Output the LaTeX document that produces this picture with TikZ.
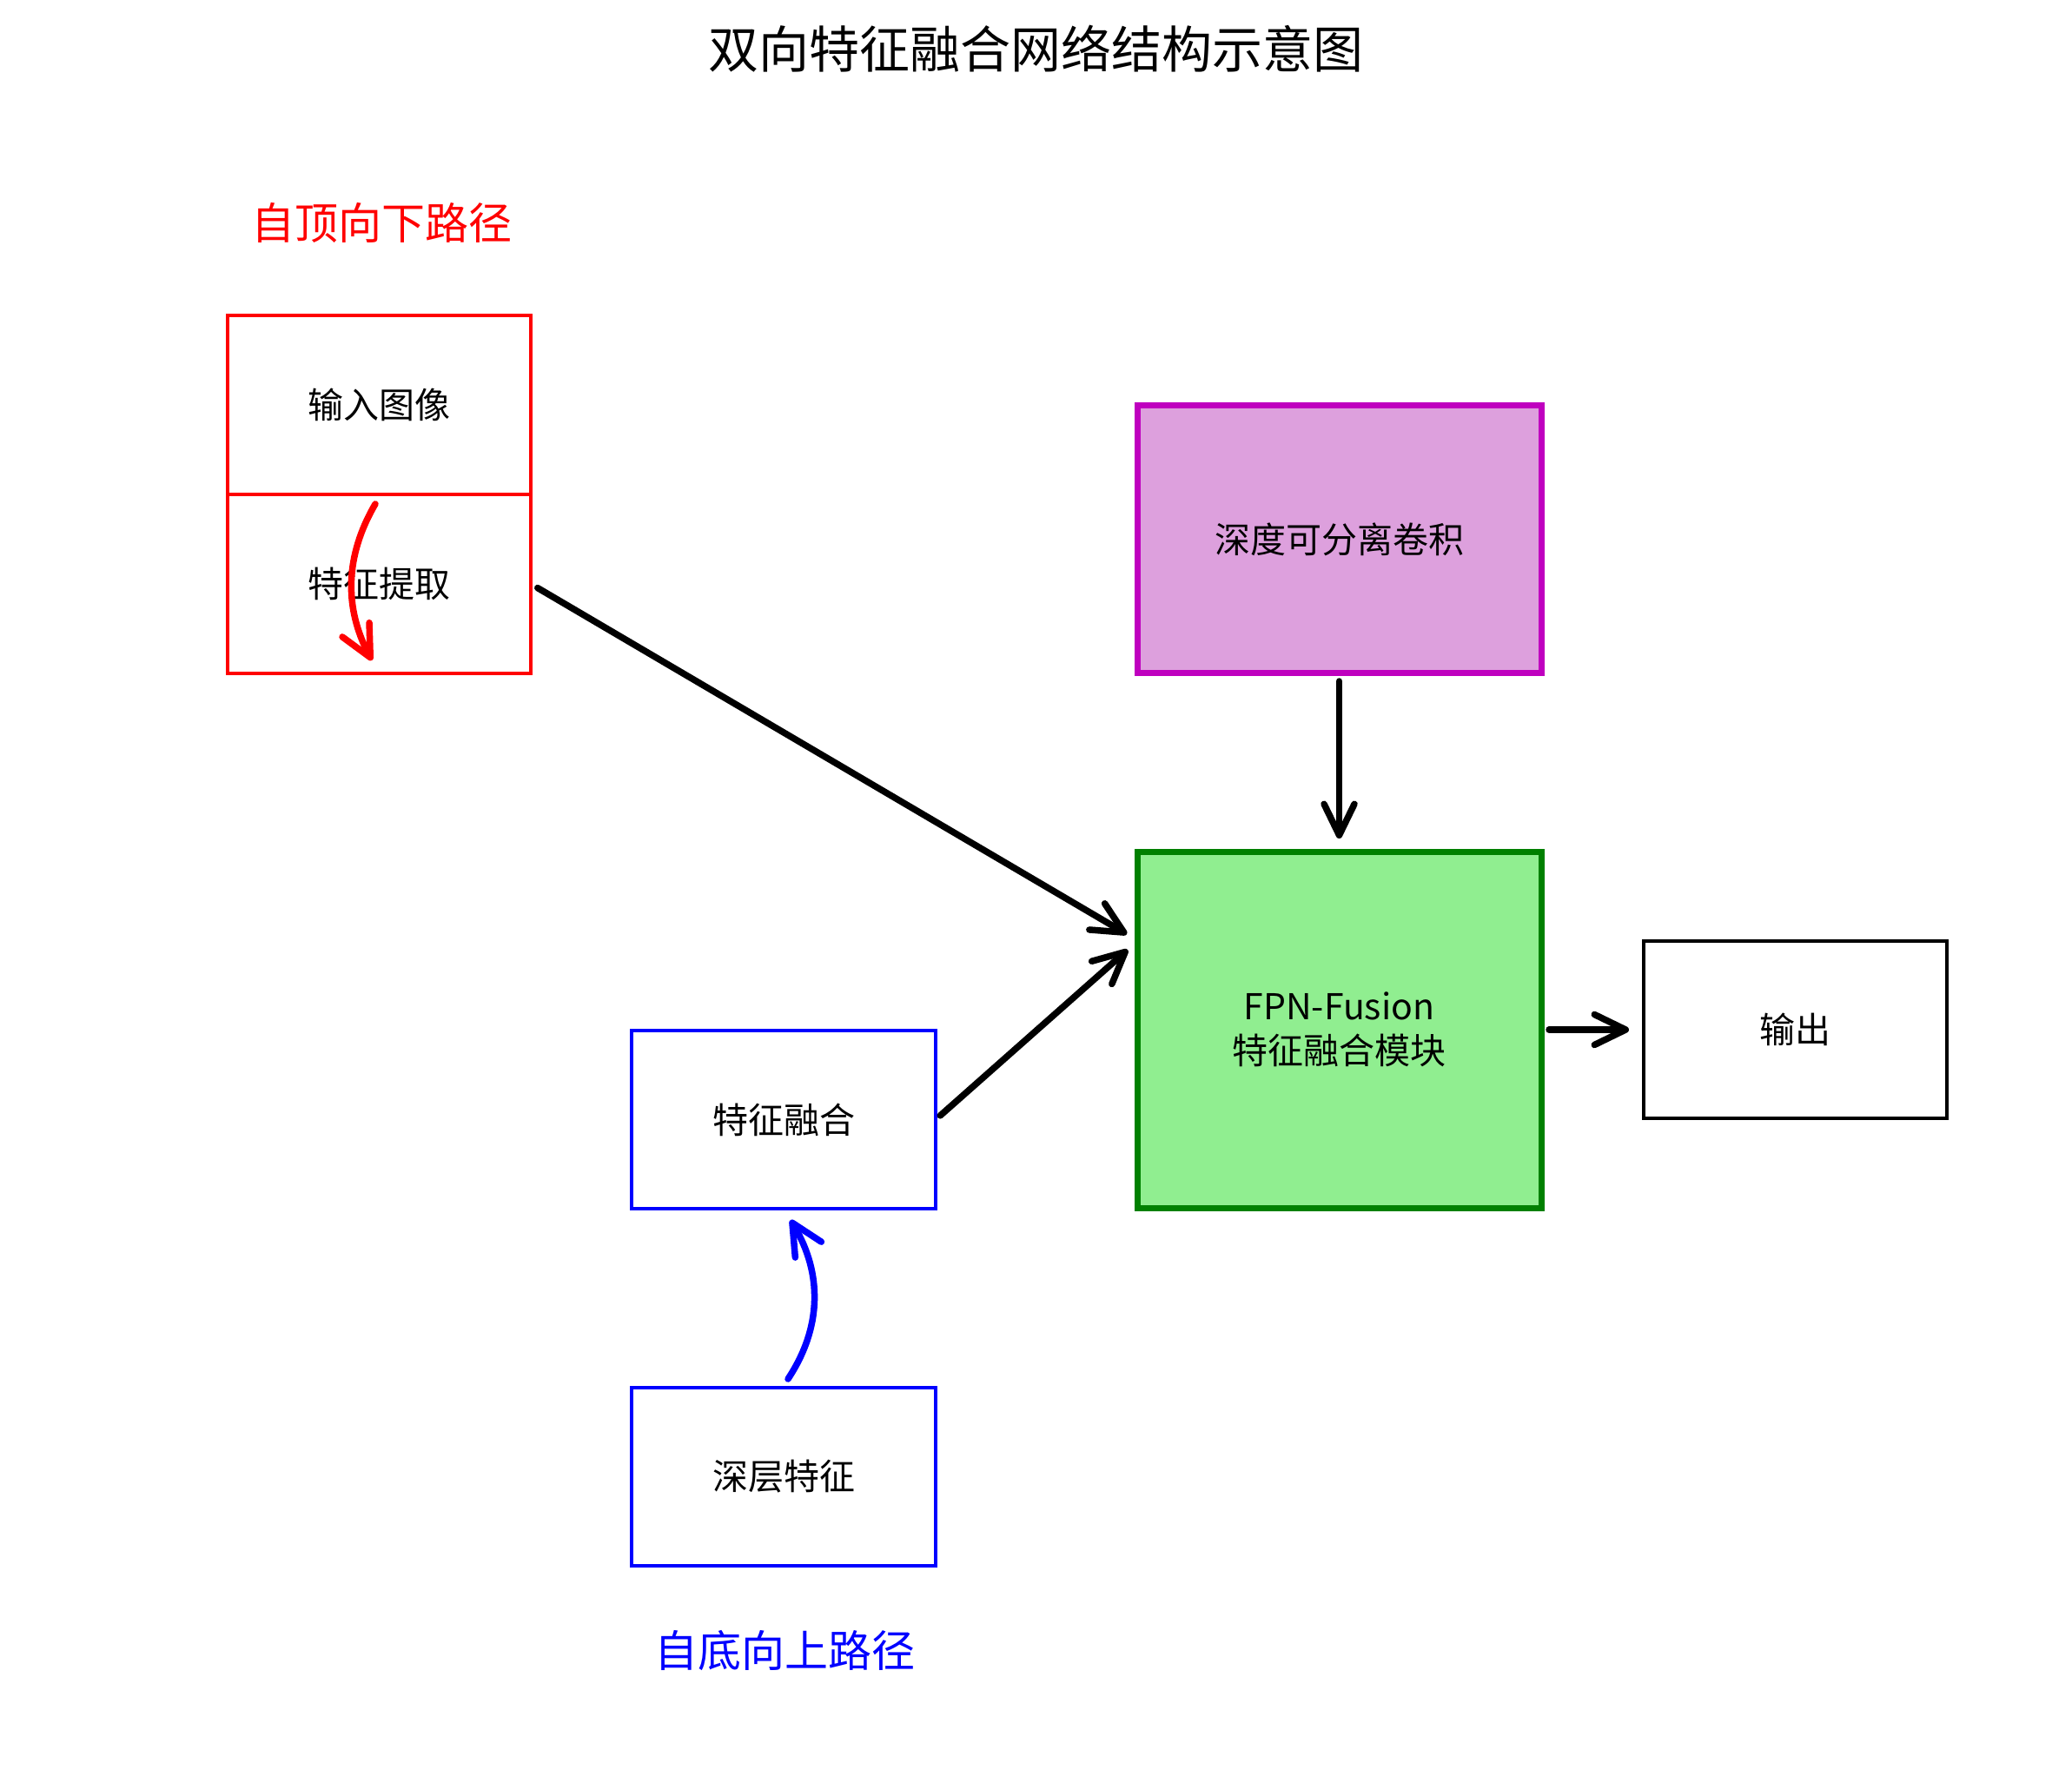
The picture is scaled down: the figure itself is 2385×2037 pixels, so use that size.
\documentclass[tikz,border=0pt]{standalone}
\usepackage{fontspec}
\setmainfont{Noto Sans CJK SC}
\usetikzlibrary{arrows.meta}
\definecolor{plumfill}{HTML}{DDA0DD}
\definecolor{magedge}{HTML}{BF00BF}
\definecolor{greenedge}{HTML}{008000}
\definecolor{lgreen}{HTML}{90EE90}
\begin{document}
\begin{tikzpicture}[x=0.5pt,y=-0.5pt,
  boxtext/.style={font=\fontsize{20.5}{25.25}\selectfont, align=center, inner sep=0pt, outer sep=0pt, text=black},
  redbox/.style={boxtext, draw=red, line width=1.65pt, minimum width=174.5pt, minimum height=103pt},
  bluebox/.style={boxtext, draw=blue, line width=1.65pt, minimum width=175pt, minimum height=102.5pt},
  purplebox/.style={boxtext, draw=magedge, fill=plumfill, line width=3.5pt, minimum width=232.5pt, minimum height=153.5pt},
  greenbox/.style={boxtext, draw=greenedge, fill=lgreen, line width=3.5pt, minimum width=232.5pt, minimum height=205pt},
  outbox/.style={boxtext, draw=black, line width=1.75pt, minimum width=174.5pt, minimum height=102pt},
  pathlabel/.style={font=\fontsize{25}{30}\selectfont, inner sep=0pt},
  arr/.style={line width=3.75pt, line cap=round, line join=round, -{Straight Barb[length=18pt,width=17.5pt,round]}},
]
\useasboundingbox[fill=white] (0,0) rectangle (2385,2037);

\node[font=\fontsize{29}{34}\selectfont, inner sep=0pt] (title) at (1192.5,56) {双向特征融合网络结构示意图};

\node[pathlabel, text=red] (lbltop) at (439,257) {自顶向下路径};
\node[pathlabel, text=blue] (lblbot) at (903.5,1900) {自底向上路径};

\node[redbox] (img) at (436.5,466) {输入图像};
\node[redbox] (feat) at (436.5,672) {特征提取};
\node[bluebox] (fusion) at (902,1288.5) {特征融合};
\node[bluebox] (deep) at (902,1699.5) {深层特征};
\node[purplebox] (dsc) at (1541.5,620.5) {深度可分离卷积};
\node[greenbox] (fpn) at (1541.5,1185) {FPN-Fusion\\特征融合模块};
\node[outbox] (out) at (2066.5,1185) {输出};

\coordinate (t1) at (1297,1075);
\coordinate (t2) at (1298,1093);
\coordinate (r1) at (432,580);
\coordinate (r2) at (428,760);
\coordinate (b1) at (907,1587);
\coordinate (b2) at (910,1404);

\draw[arr, shorten <=4.5pt] (feat.east) -- (t1);
\draw[arr, shorten <=3.5pt] (fusion.east) -- (t2);
\draw[arr, shorten <=5pt, shorten >=7.5pt] (dsc.south) -- (fpn.north);
\draw[arr, shorten <=4.5pt, shorten >=8.5pt] (fpn.east) -- (out.west);
\draw[arr, draw=red] (r1) .. controls (397,640) and (396,699) .. (r2);
\draw[arr, draw=blue] (b1) .. controls (946,1528) and (947,1466) .. (b2);
\end{tikzpicture}
\end{document}
